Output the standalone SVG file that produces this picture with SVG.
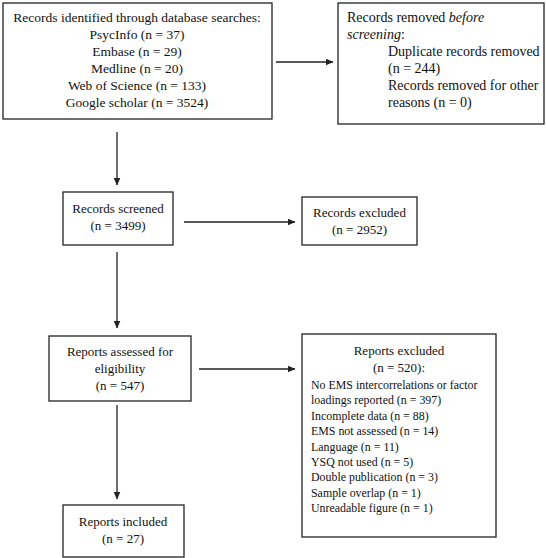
<svg xmlns="http://www.w3.org/2000/svg" width="546" height="558" viewBox="0 0 546 558" font-family="'Liberation Serif', 'Times New Roman', serif">
<style>
.box{fill:#fff;stroke:#222;stroke-width:1.3}
.tx{font-family:'Liberation Serif','Times New Roman',serif;fill:#111}
.t14{font-size:14px}
.t135{font-size:13.5px}
.t13{font-size:13px}
.t12{font-size:11.9px}
.c{text-anchor:middle}
.ln{stroke:#222;stroke-width:1.3;fill:none}
</style>
<defs>
<marker id="ah" markerWidth="8" markerHeight="7" refX="7.5" refY="3.5" orient="auto" markerUnits="userSpaceOnUse">
<path d="M0,0 L8,3.5 L0,7 Z" fill="#222"/>
</marker>
</defs>
<rect width="546" height="558" fill="#fff"/>
<g id="n1">
<rect class="box" x="3" y="3" width="269" height="116"/>
<text class="tx t135 c" x="137" y="22">Records identified through database searches:</text>
<text class="tx t135 c" x="137" y="39">PsycInfo (n = 37)</text>
<text class="tx t135 c" x="137" y="56">Embase (n = 29)</text>
<text class="tx t135 c" x="137" y="73">Medline (n = 20)</text>
<text class="tx t135 c" x="137" y="90">Web of Science (n = 133)</text>
<text class="tx t135 c" x="137" y="107">Google scholar (n = 3524)</text>
</g>
<g id="n2">
<rect class="box" x="338" y="3" width="206" height="121"/>
<text class="tx t14" x="347" y="22">Records removed <tspan font-style="italic">before</tspan></text>
<text class="tx t14" x="347" y="39"><tspan font-style="italic">screening</tspan>:</text>
<text class="tx t14" x="388" y="56">Duplicate records removed</text>
<text class="tx t14" x="388" y="73">(n = 244)</text>
<text class="tx t14" x="388" y="90">Records removed for other</text>
<text class="tx t14" x="388" y="107">reasons (n = 0)</text>
</g>
<g id="n3">
<rect class="box" x="63" y="192" width="110" height="53"/>
<text class="tx t13 c" x="118" y="213">Records screened</text>
<text class="tx t13 c" x="118" y="230">(n = 3499)</text>
</g>
<g id="n4">
<rect class="box" x="302" y="197" width="115" height="48"/>
<text class="tx t13 c" x="359.5" y="217">Records excluded</text>
<text class="tx t13 c" x="359.5" y="234">(n = 2952)</text>
</g>
<g id="n5">
<rect class="box" x="49" y="336" width="142" height="65"/>
<text class="tx t13 c" x="120" y="356">Reports assessed for</text>
<text class="tx t13 c" x="120" y="373">eligibility</text>
<text class="tx t13 c" x="120" y="390">(n = 547)</text>
</g>
<g id="n6">
<rect class="box" x="302" y="334" width="194" height="203"/>
<text class="tx t13 c" x="399" y="355">Reports excluded</text>
<text class="tx t13 c" x="399" y="372">(n = 520):</text>
<text class="tx t12" x="311" y="389">No EMS intercorrelations or factor</text>
<text class="tx t12" x="311" y="404">loadings reported (n = 397)</text>
<text class="tx t12" x="311" y="420">Incomplete data (n = 88)</text>
<text class="tx t12" x="311" y="435">EMS not assessed (n = 14)</text>
<text class="tx t12" x="311" y="451">Language (n = 11)</text>
<text class="tx t12" x="311" y="466">YSQ not used (n = 5)</text>
<text class="tx t12" x="311" y="481">Double publication (n = 3)</text>
<text class="tx t12" x="311" y="497">Sample overlap (n = 1)</text>
<text class="tx t12" x="311" y="512">Unreadable figure (n = 1)</text>
</g>
<g id="n7">
<rect class="box" x="63" y="505" width="121" height="52"/>
<text class="tx t13 c" x="123" y="526">Reports included</text>
<text class="tx t13 c" x="123" y="543">(n = 27)</text>
</g>
<g id="connectors">
<line class="ln" x1="117" y1="132" x2="117" y2="185" marker-end="url(#ah)"/>
<line class="ln" x1="276" y1="62" x2="333" y2="62" marker-end="url(#ah)"/>
<line class="ln" x1="184" y1="222" x2="295" y2="222" marker-end="url(#ah)"/>
<line class="ln" x1="117" y1="252" x2="117" y2="328" marker-end="url(#ah)"/>
<line class="ln" x1="199" y1="369" x2="295" y2="369" marker-end="url(#ah)"/>
<line class="ln" x1="117" y1="405" x2="117" y2="499" marker-end="url(#ah)"/>
</g>
</svg>
